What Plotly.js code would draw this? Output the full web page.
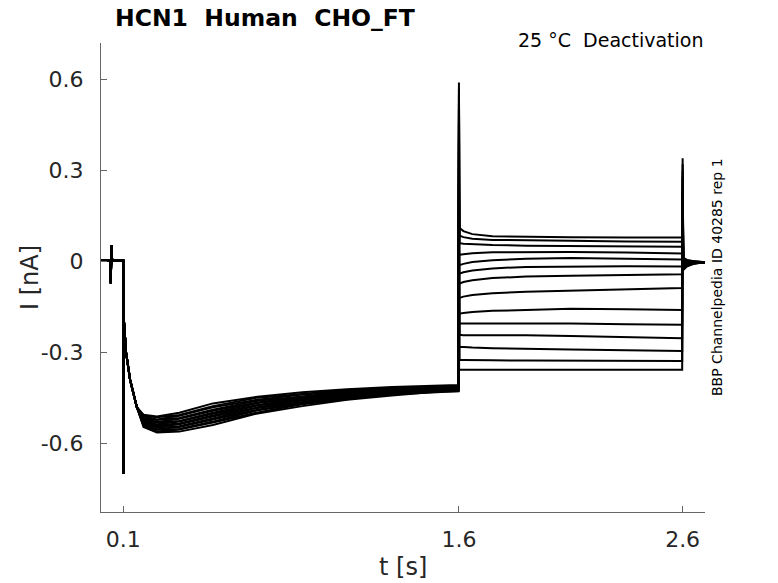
<!DOCTYPE html>
<html>
<head>
<meta charset="utf-8">
<script src="https://cdn.plot.ly/plotly-3.0.1.min.js"></script>
<style>
  body { margin: 0; background: #fff; }
  #plot { width: 778px; height: 583px; }
</style>
</head>
<body>
<div id="plot"></div>
<script>
// holding period before the step (with the small artifact near 45 ms)
const preT = [0, 0.03, 0.0425, 0.043, 0.045, 0.048, 0.049, 0.052, 0.07, 0.0995];
const preI = [0.003, 0.002, 0.003, -0.072, -0.005, 0.054, 0.01, 0.003, 0.002, 0.003];

// activating prepulse, 0.1 s .. 1.6 s
const prepT = [0.1, 0.1008, 0.103, 0.112, 0.13, 0.16, 0.19, 0.25, 0.35, 0.5, 0.7, 0.9, 1.1, 1.3, 1.5, 1.598];
const prepHead = [-0.70, -0.21, -0.20, -0.30, -0.39, -0.48];
const prepTail = [
    [-0.505, -0.511, -0.499, -0.468, -0.446, -0.431, -0.421, -0.414, -0.409, -0.407],
    [-0.509, -0.514, -0.506, -0.477, -0.449, -0.437, -0.424, -0.417, -0.412, -0.410],
    [-0.511, -0.521, -0.509, -0.481, -0.456, -0.439, -0.429, -0.418, -0.413, -0.412],
    [-0.516, -0.523, -0.516, -0.489, -0.459, -0.445, -0.430, -0.422, -0.416, -0.413],
    [-0.517, -0.529, -0.519, -0.492, -0.465, -0.446, -0.435, -0.422, -0.419, -0.416],
    [-0.522, -0.531, -0.526, -0.499, -0.467, -0.451, -0.436, -0.426, -0.418, -0.417],
    [-0.523, -0.537, -0.528, -0.502, -0.473, -0.452, -0.439, -0.427, -0.422, -0.419],
    [-0.528, -0.540, -0.534, -0.508, -0.475, -0.457, -0.440, -0.430, -0.421, -0.420],
    [-0.529, -0.545, -0.537, -0.511, -0.481, -0.458, -0.444, -0.430, -0.425, -0.421],
    [-0.534, -0.547, -0.543, -0.518, -0.483, -0.463, -0.445, -0.434, -0.424, -0.423],
    [-0.535, -0.553, -0.546, -0.521, -0.489, -0.464, -0.449, -0.435, -0.428, -0.424],
    [-0.540, -0.555, -0.552, -0.528, -0.491, -0.469, -0.450, -0.438, -0.427, -0.426],
    [-0.541, -0.561, -0.554, -0.531, -0.498, -0.471, -0.455, -0.438, -0.431, -0.427],
    [-0.546, -0.564, -0.561, -0.539, -0.501, -0.477, -0.456, -0.442, -0.430, -0.428]
];

// test pulses, 1.6 s .. 2.6 s
const spikeOn = [0.59, 0.57, 0.55, 0.52, 0.50, 0.47, 0.45, 0.42, 0.39, 0.36, 0.33, 0.30, 0.27, 0.24];
const testT = [1.6008, 1.603, 1.62, 1.66, 1.75, 1.9, 2.1, 2.35, 2.598];
const testI = [
    [0.112, 0.110, 0.100, 0.090, 0.083, 0.081, 0.080, 0.079, 0.079],
    [0.087, 0.085, 0.080, 0.075, 0.071, 0.069, 0.068, 0.066, 0.065],
    [0.061, 0.060, 0.058, 0.056, 0.054, 0.052, 0.051, 0.049, 0.048],
    [0.021, 0.022, 0.024, 0.027, 0.030, 0.031, 0.031, 0.029, 0.026],
    [-0.013, -0.012, -0.008, -0.002, 0.004, 0.009, 0.011, 0.009, 0.006],
    [-0.041, -0.040, -0.036, -0.030, -0.023, -0.018, -0.016, -0.016, -0.017],
    [-0.074, -0.073, -0.068, -0.062, -0.055, -0.050, -0.047, -0.044, -0.042],
    [-0.121, -0.120, -0.116, -0.111, -0.105, -0.100, -0.096, -0.091, -0.088],
    [-0.173, -0.172, -0.170, -0.167, -0.163, -0.159, -0.156, -0.158, -0.160],
    [-0.205, -0.205, -0.205, -0.204, -0.203, -0.204, -0.205, -0.207, -0.209],
    [-0.242, -0.242, -0.243, -0.243, -0.243, -0.243, -0.246, -0.250, -0.253],
    [-0.281, -0.281, -0.282, -0.284, -0.286, -0.287, -0.290, -0.293, -0.295],
    [-0.325, -0.325, -0.325, -0.326, -0.326, -0.327, -0.327, -0.328, -0.328],
    [-0.357, -0.357, -0.357, -0.357, -0.357, -0.357, -0.357, -0.357, -0.357]
];

// return to holding, 2.6 s .. 2.7 s
const spikeOff = [0.15, 0.16, 0.17, 0.18, 0.19, 0.20, 0.22, 0.23, 0.25, 0.27, 0.28, 0.30, 0.32, 0.34];
const tailT = [2.6, 2.6008, 2.603, 2.62, 2.65, 2.7];
const tailI = [
    [-0.028, -0.028, -0.016, -0.008, -0.003],
    [-0.025, -0.025, -0.015, -0.007, -0.003],
    [-0.022, -0.022, -0.013, -0.007, -0.003],
    [-0.019, -0.019, -0.011, -0.006, -0.003],
    [-0.016, -0.016, -0.010, -0.005, -0.003],
    [-0.013, -0.013, -0.008, -0.005, -0.003],
    [-0.010, -0.010, -0.006, -0.004, -0.003],
    [-0.007, -0.007, -0.005, -0.004, -0.003],
    [-0.004, -0.004, -0.003, -0.003, -0.003],
    [-0.001, -0.001, -0.002, -0.002, -0.003],
    [0.002, 0.002, 0.000, -0.001, -0.003],
    [0.005, 0.005, 0.002, -0.001, -0.003],
    [0.008, 0.008, 0.003, 0.000, -0.003],
    [0.012, 0.012, 0.005, 0.001, -0.003]
];

const xTicks = [0.1, 1.6, 2.6];
const yTicks = [-0.6, -0.3, 0, 0.3, 0.6];

const FONT = "DejaVu Sans, sans-serif";
const W = 778, H = 583;
const M = {l: 101, r: 73, t: 43, b: 71};
const pw = W - M.l - M.r, ph = H - M.t - M.b;
const px = x => (x - M.l) / pw;        // pixel -> paper
const py = y => (H - M.b - y) / ph;

const traces = prepTail.map((tail, k) => ({
    x: [].concat(preT, prepT, [1.6], testT, tailT),
    y: [].concat(preI, prepHead, tail, [spikeOn[k]], testI[k], [spikeOff[k]], tailI[k]),
    type: "scatter",
    mode: "lines",
    line: {color: "#000", width: 2},
    hoverinfo: "skip",
    showlegend: false
}));

const layout = {
    width: W, height: H,
    margin: M,
    paper_bgcolor: "#fff",
    plot_bgcolor: "#fff",
    font: {family: FONT, color: "#262626"},
    xaxis: {
        range: [0, 2.7],
        tickvals: xTicks,
        ticktext: xTicks.map(String),
        ticks: "inside", ticklen: 6, tickcolor: "#666",
        showline: true, linecolor: "#666", linewidth: 1,
        showgrid: false, zeroline: false,
        tickfont: {size: 22, family: FONT, color: "#262626"},
        ticklabelstandoff: 8
    },
    yaxis: {
        range: [-0.826, 0.72],
        tickvals: yTicks,
        ticktext: ["-0.6", "-0.3", "0", "0.3", "0.6"],
        ticks: "inside", ticklen: 6, tickcolor: "#666",
        showline: true, linecolor: "#666", linewidth: 1,
        showgrid: false, zeroline: false,
        tickfont: {size: 22, family: FONT, color: "#262626"},
        ticklabelstandoff: 12
    },
    annotations: [
        {text: "<b>HCN1\u00a0\u00a0Human\u00a0\u00a0CHO_FT</b>", xref: "paper", yref: "paper",
         x: px(113), y: py(18), xanchor: "left", yanchor: "middle", showarrow: false,
         font: {size: 23.5, family: FONT, color: "#000"}},
        {text: "25 °C\u00a0\u00a0Deactivation", xref: "paper", yref: "paper",
         x: px(705), y: py(40), xanchor: "right", yanchor: "middle", showarrow: false,
         font: {size: 19, family: FONT, color: "#000"}},
        {text: "BBP Channelpedia ID 40285 rep 1", xref: "paper", yref: "paper",
         x: px(717), y: py(277), xanchor: "center", yanchor: "middle", textangle: -90,
         showarrow: false, font: {size: 14, family: FONT, color: "#000"}},
        {text: "t [s]", xref: "paper", yref: "paper",
         x: px(403), y: py(567), xanchor: "center", yanchor: "middle", showarrow: false,
         font: {size: 24, family: FONT, color: "#262626"}},
        {text: "I [nA]", xref: "paper", yref: "paper",
         x: px(30), y: py(278), xanchor: "center", yanchor: "middle", textangle: -90,
         showarrow: false, font: {size: 24, family: FONT, color: "#262626"}}
    ]
};

Plotly.newPlot("plot", traces, layout, {staticPlot: true, displayModeBar: false});
</script>
</body>
</html>
